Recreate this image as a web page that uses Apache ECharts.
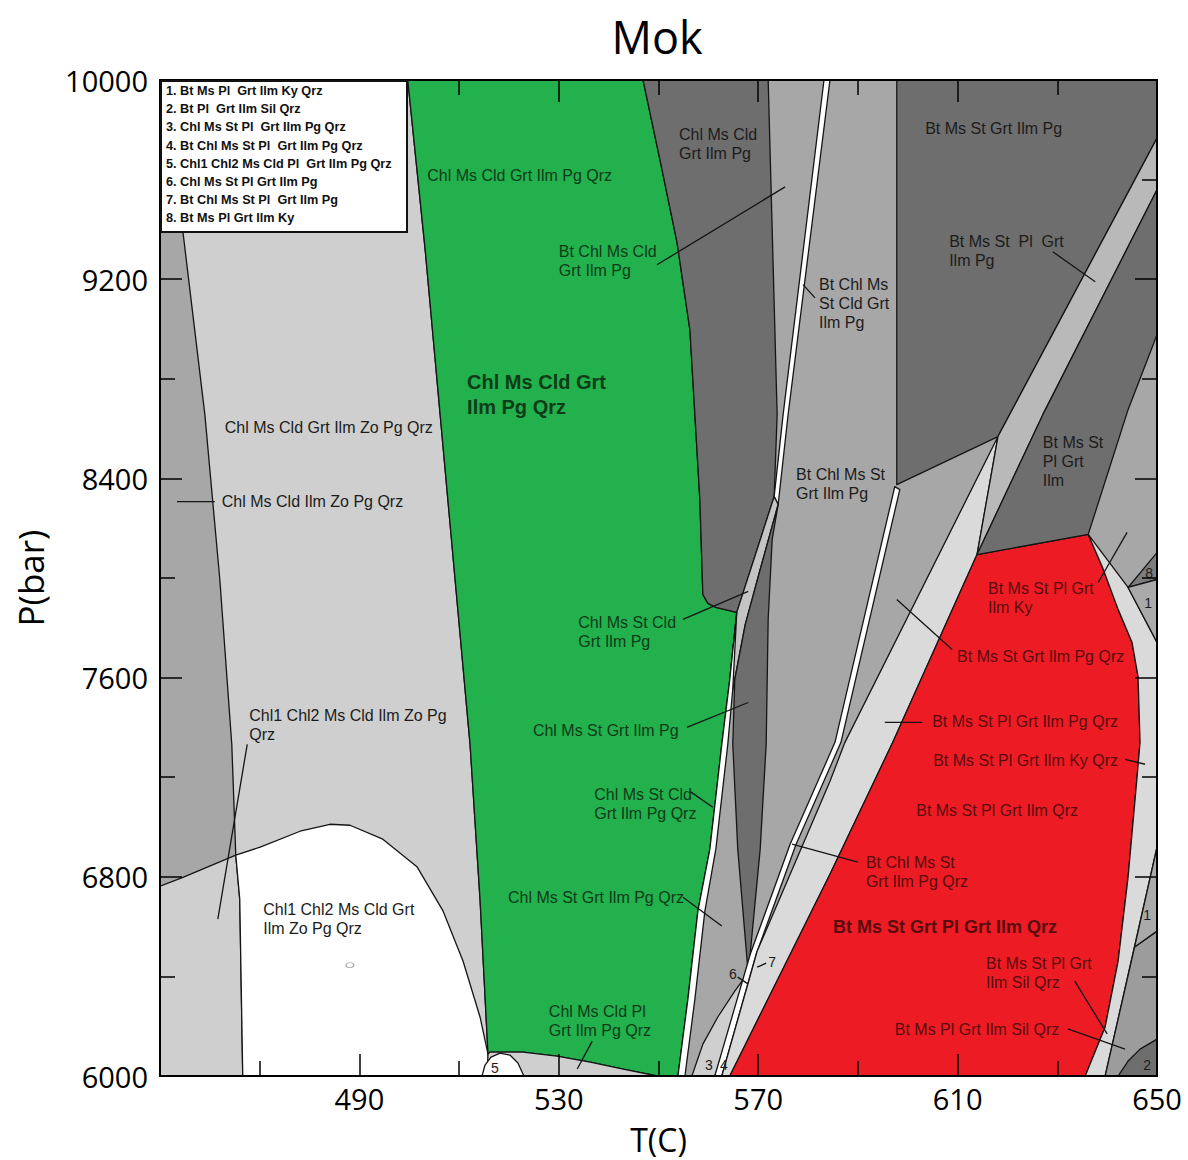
<!DOCTYPE html>
<html><head><meta charset="utf-8">
<script src="https://cdn.jsdelivr.net/npm/echarts@6/dist/echarts.min.js"></script>
<style>html,body{margin:0;padding:0;background:#fff}#c{width:1188px;height:1160px}</style>
</head><body><div id="c"></div>
<script>
// ---------- axis settings ----------
const tRange = [450, 650];
const pRange = [6000, 10000];

// ---------- phase field polygons, [T (C), P (bar)] ----------
const fieldLightBig = [[451.0,10000],[499.7,10000],[503.2,9318],[506.2,8656],[509.2,7994],[512.2,7332],[514.2,6710],[515.8,6088],[516.2,6000],[466.6,6000],[466.0,6710],[465.2,6887],[464.4,7332],[462.0,7994],[459.0,8656],[454.6,9390]];
const fieldLightLowLeft = [[450,6762],[454.6,6798],[465.2,6887],[466.0,6710],[466.6,6000],[450,6000]];
const fieldWhite = [[465.2,6887],[470.1,6919],[478.1,6983],[484.1,7011],[488.1,7007],[494.7,6951],[501.6,6839],[506.8,6662],[510.8,6461],[514.2,6237],[515.8,6088],[516.2,6000],[466.6,6000],[466.0,6710]];
const fieldGreen = [[499.7,10000],[503.2,9318],[506.2,8656],[509.2,7994],[512.2,7332],[514.2,6710],[515.8,6088],[516.2,6096],[522.8,6096],[529.6,6080],[536.3,6056],[542.9,6028],[549.7,6000],[553.9,6000],[555.9,6309],[557.9,6662],[560.3,6911],[562.7,7332],[564.3,7593],[565.7,7862],[561.5,7882],[559.9,7898],[558.9,7934],[558.3,8315],[557.3,8656],[556.3,8997],[553.7,9350],[550.3,9679],[546.9,10000]];
const fieldUnderGreen = [[515.8,6088],[516.2,6096],[522.8,6096],[529.6,6080],[536.3,6056],[542.9,6028],[549.7,6000],[515.6,6000]];
const field5 = [[514.6,6000],[515.2,6044],[516.4,6076],[518.2,6092],[520.2,6084],[521.8,6052],[523.0,6000]];
const fieldD1 = [[546.9,10000],[572.0,10000],[573.8,8656],[573.2,8327],[565.7,7862],[561.5,7882],[559.9,7898],[558.9,7934],[558.3,8315],[557.3,8656],[556.3,8997],[553.7,9350],[550.3,9679]];
const fieldW1 = [[583.2,10000],[584.4,10000],[576.0,8656],[574.0,8295],[573.2,8327],[575.0,8656]];
const fieldS1 = [[573.2,8327],[574.0,8295],[570.4,8034],[567.4,7813],[564.9,7553],[564.3,7593],[565.7,7862]];
const fieldD2 = [[574.0,8295],[572.8,8154],[572.0,7834],[571.6,7332],[570.4,6911],[568.0,6409],[565.9,6911],[564.9,7332],[565.3,7593],[567.4,7813],[570.4,8034]];
const fieldW3 = [[565.7,7862],[564.3,7593],[562.7,7332],[560.3,6911],[557.9,6662],[555.9,6309],[553.9,6000],[555.3,6000],[557.3,6309],[559.3,6662],[561.5,6911],[563.9,7332],[564.9,7553]];
const field3 = [[567.8,6409],[565.3,6341],[561.9,6237],[558.9,6128],[556.7,6000],[561.3,6000],[566.3,6309]];
const fieldW2 = [[597.4,8367],[585.4,7340],[576.4,6931],[568.4,6489],[561.3,6000],[562.7,6000],[569.6,6489],[577.6,6931],[586.6,7340],[598.4,8355]];
const fieldPale = [[618.1,8568],[613.9,8094],[597.0,7340],[584.4,6810],[564.3,6000],[562.7,6000],[569.8,6502],[584.4,7184],[587.4,7340]];
const fieldRed = [[613.9,8094],[636.2,8175],[639.0,8046],[642.2,7874],[645.0,7741],[646.2,7605],[646.6,7340],[646.0,7200],[644.2,6798],[642.2,6461],[639.6,6197],[635.6,6000],[564.3,6000],[584.4,6810],[597.0,7340]];
const fieldPaleRight = [[636.2,8175],[644.2,7962],[650,7741],[650,6919],[639.6,6000],[635.6,6000],[639.6,6197],[642.2,6461],[644.2,6798],[646.0,7200],[646.6,7340],[646.2,7605],[645.0,7741],[642.2,7874],[639.0,8046]];
const fieldDR1 = [[597.8,10000],[650,10000],[650,9767],[618.1,8568],[597.8,8375]];
const fieldLS = [[650,9767],[650,9559],[627.1,8656],[613.9,8094],[618.1,8568]];
const fieldDR2 = [[650,9559],[650,8977],[644.2,8676],[636.2,8175],[613.9,8094],[627.1,8656]];
const field8 = [[644.2,7962],[650,8102],[650,7994]];
const field1a = [[644.2,7962],[650,7994],[650,7741]];
const fieldLowRight = [[645.5,6518],[650,6582],[650,6000],[639.6,6000]];
const field1b = [[650,6919],[650,6582],[645.5,6518]];
const field2 = [[642.2,6000],[644.2,6060],[646.6,6108],[650,6148],[650,6000]];

// leader lines [[T1,P1],[T2,P2]]
const leaders = [
  [[453.4,8307],[461.0,8307]],
  [[461.6,6630],[467.5,7332]],
  [[549.7,9258],[575.4,9571]],
  [[579.0,9178],[581.4,9125]],
  [[629.1,9310],[637.6,9190]],
  [[554.9,7834],[568.0,7946]],
  [[555.7,7400],[568.0,7500]],
  [[556.3,7143],[560.9,7079]],
  [[554.9,6718],[562.7,6602]],
  [[536.7,6140],[533.7,6028]],
  [[565.9,6397],[568.0,6369]],
  [[569.8,6437],[571.6,6453]],
  [[576.8,6931],[590.0,6859]],
  [[597.8,7914],[608.9,7713]],
  [[595.4,7420],[602.9,7420]],
  [[638.2,7982],[644.0,8183]],
  [[643.6,7272],[647.6,7252]],
  [[633.5,6381],[640.0,6169]],
  [[632.1,6189],[643.6,6108]]
];

// field labels [T, P, text, kind]
const fieldLabels = [
  [503.6,9655,'Chl Ms Cld Grt Ilm Pg Qrz','g'],
  [554.1,9819,'Chl Ms Cld\nGrt Ilm Pg','k'],
  [603.5,9843,'Bt Ms St Grt Ilm Pg','k'],
  [530.0,9350,'Bt Chl Ms Cld\nGrt Ilm Pg','g'],
  [608.3,9390,'Bt Ms St  Pl  Grt\nIlm Pg','k'],
  [582.2,9218,'Bt Chl Ms\nSt Cld Grt\nIlm Pg','k'],
  [511.6,8836,'Chl Ms Cld Grt\nIlm Pg Qrz','gB'],
  [463.0,8644,'Chl Ms Cld Grt Ilm Zo Pg Qrz','k'],
  [462.4,8347,'Chl Ms Cld Ilm Zo Pg Qrz','k'],
  [577.6,8455,'Bt Chl Ms St\nGrt Ilm Pg','k'],
  [627.1,8584,'Bt Ms St\nPl Grt\nIlm','k'],
  [616.1,7994,'Bt Ms St Pl Grt\nIlm Ky','r'],
  [533.9,7858,'Chl Ms St Cld\nGrt Ilm Pg','g'],
  [609.9,7721,'Bt Ms St Grt Ilm Pg Qrz','r'],
  [467.9,7484,'Chl1 Chl2 Ms Cld Ilm Zo Pg\nQrz','k'],
  [524.8,7424,'Chl Ms St Grt Ilm Pg','g'],
  [604.9,7460,'Bt Ms St Pl Grt Ilm Pg Qrz','r'],
  [605.1,7304,'Bt Ms St Pl Grt Ilm Ky Qrz','r'],
  [537.1,7167,'Chl Ms St Cld\nGrt Ilm Pg Qrz','g'],
  [601.7,7103,'Bt Ms St Pl Grt Ilm Qrz','r'],
  [591.6,6895,'Bt Chl Ms St\nGrt Ilm Pg Qrz','r'],
  [470.7,6706,'Chl1 Chl2 Ms Cld Grt\nIlm Zo Pg Qrz','k'],
  [519.8,6754,'Chl Ms St Grt Ilm Pg Qrz','g'],
  [585.0,6650,'Bt Ms St Grt Pl Grt Ilm Qrz','rB'],
  [615.7,6489,'Bt Ms St Pl Grt\nIlm Sil Qrz','r'],
  [528.0,6297,'Chl Ms Cld Pl\nGrt Ilm Pg Qrz','g'],
  [597.4,6225,'Bt Ms Pl Grt Ilm Sil Qrz','r']
];
const numberLabels = [[517.2,6032,'5'],[560.1,6044,'3'],[563.1,6044,'4'],[564.9,6409,'6'],[572.8,6457,'7'],[648.4,8022,'8'],[648.2,7898,'1'],[648.0,6646,'1'],[648.0,6044,'2']];
const smallCircle = [[488.1,6445]];

const legendLines = [
  '1. Bt Ms Pl  Grt Ilm Ky Qrz',
  '2. Bt Pl  Grt Ilm Sil Qrz',
  '3. Chl Ms St Pl  Grt Ilm Pg Qrz',
  '4. Bt Chl Ms St Pl  Grt Ilm Pg Qrz',
  '5. Chl1 Chl2 Ms Cld Pl  Grt Ilm Pg Qrz',
  '6. Chl Ms St Pl Grt Ilm Pg',
  '7. Bt Chl Ms St Pl  Grt Ilm Pg',
  '8. Bt Ms Pl Grt Ilm Ky'
];

// ---------- styling ----------
const COL = {lg:'#cfcfcf', mg:'#a7a7a7', dg:'#6e6e6e', w:'#ffffff', s1:'#c4c4c4', pale:'#dadada', ls:'#b9b9b9', d8:'#7d7d7d', lr:'#9c9c9c', m1:'#aaaaaa', green:'#22b14c', red:'#ed1c24'};
const fields = [
  [fieldLightBig, COL.lg], [fieldLightLowLeft, COL.lg], [fieldWhite, COL.w],
  [fieldGreen, COL.green], [fieldUnderGreen, COL.lg], [field5, COL.w],
  [fieldD1, COL.dg], [fieldW1, COL.w], [fieldS1, COL.s1], [fieldD2, COL.dg],
  [fieldW3, COL.w], [field3, COL.lg], [fieldW2, COL.w], [fieldPale, COL.pale],
  [fieldRed, COL.red], [fieldPaleRight, COL.pale], [fieldDR1, COL.dg], [fieldLS, COL.ls],
  [fieldDR2, COL.dg], [field8, COL.d8], [field1a, COL.m1], [fieldLowRight, COL.lr],
  [field1b, COL.m1], [field2, COL.dg]
];
const LABEL_FONT = 'Liberation Sans, Arial, sans-serif';
const AXIS_FONT = 'Open Sans, sans-serif';
const kindStyle = {
  k:{fill:'#1c1c1c', fontSize:16, fontWeight:'normal', lineHeight:19},
  g:{fill:'#0e3b18', fontSize:16, fontWeight:'normal', lineHeight:19},
  r:{fill:'#5a0b0d', fontSize:16, fontWeight:'normal', lineHeight:19},
  gB:{fill:'#0e3b18', fontSize:20, fontWeight:'bold', lineHeight:25},
  rB:{fill:'#5a0b0d', fontSize:18, fontWeight:'bold', lineHeight:25}
};

const chart = echarts.init(document.getElementById('c'), null, {renderer:'svg', width:1188, height:1160});

function axisCommon(pos, isX, showLabel) {
  return {
    type:'value', position:pos,
    min: isX ? tRange[0] : pRange[0], max: isX ? tRange[1] : pRange[1],
    interval: isX ? 40 : 800,
    axisLine:{show:true, onZero:false, lineStyle:{color:'#000', width:2}},
    axisTick:{show:true, inside:true, length:22, lineStyle:{color:'#000', width:1.5}},
    minorTick:{show:true, splitNumber:2, length:15, lineStyle:{color:'#000', width:1.5}},
    splitLine:{show:false}, minorSplitLine:{show:false},
    axisLabel:{show:showLabel, color:'#000', fontSize:29, fontFamily:AXIS_FONT, margin: isX ? 8 : 12,
      formatter: v => (isX && v === tRange[0]) ? '' : String(v)},
    z: 10
  };
}

const xMain = Object.assign(axisCommon('bottom', true, true), {name:'T(C)', nameLocation:'middle', nameGap:47, nameTextStyle:{color:'#000', fontSize:32, fontFamily:AXIS_FONT}});
const yMain = Object.assign(axisCommon('left', false, true), {name:'P(bar)', nameLocation:'middle', nameGap:112, nameTextStyle:{color:'#000', fontSize:35, fontFamily:AXIS_FONT}});

const legendElems = [
  {type:'rect', z:100, zlevel:1, shape:{x:161, y:81, width:246, height:151}, style:{fill:'#fff', stroke:'#111', lineWidth:2}}
].concat(legendLines.map((t,i)=>({type:'text', z:101, zlevel:1, x:166, y:91 + i*18.2,
  style:{text:t, fill:'#111', fontSize:12.7, fontWeight:'bold', fontFamily:LABEL_FONT, verticalAlign:'middle', align:'left'}})));

const option = {
  animation:false,
  backgroundColor:'#ffffff',
  title:{text:'Mok', left:652, top:6, textAlign:'center', textStyle:{fontSize:45, lineHeight:50, fontWeight:'normal', color:'#000', fontFamily:AXIS_FONT}},
  grid:{left:160, right:31, top:80, bottom:83, show:true, backgroundColor:COL.mg, borderColor:'#000', borderWidth:2},
  xAxis:[xMain, axisCommon('top', true, false)],
  yAxis:[yMain, axisCommon('right', false, false)],
  series:[
    {
      type:'custom', silent:true, clip:true, z:2,
      data: fields.map((f,i)=>[f[0][0][0], f[0][0][1], i]),
      encode:{x:0, y:1},
      renderItem:(params, api)=>{
        const f = fields[params.dataIndex];
        return {type:'polygon', shape:{points:f[0].map(p=>api.coord(p))},
          style:{fill:f[1], stroke:'#151515', lineWidth:1.3, lineJoin:'round'}};
      }
    },
    {
      type:'custom', silent:true, clip:true, z:3,
      data: leaders.map((l,i)=>[l[0][0], l[0][1], i]),
      encode:{x:0, y:1},
      renderItem:(params, api)=>{
        const l = leaders[params.dataIndex];
        return {type:'polyline', shape:{points:l.map(p=>api.coord(p))},
          style:{stroke:'#151515', lineWidth:1.3, fill:null}};
      }
    },
    {
      type:'scatter', silent:true, z:3, symbol:'circle', symbolSize:[8,5],
      itemStyle:{color:'rgba(0,0,0,0)', borderColor:'#8a8a8a', borderWidth:1},
      data: smallCircle
    },
    {
      type:'custom', silent:true, clip:false, z:4,
      data: fieldLabels.map(l=>[l[0], l[1]]),
      encode:{x:0, y:1},
      renderItem:(params, api)=>{
        const l = fieldLabels[params.dataIndex];
        const s = kindStyle[l[3]];
        const pt = api.coord([l[0], l[1]]);
        return {type:'text', x:pt[0], y:pt[1],
          style:{text:l[2], fill:s.fill, fontSize:s.fontSize, fontWeight:s.fontWeight,
            fontFamily:LABEL_FONT, lineHeight:s.lineHeight, align:'left', verticalAlign:'top'}};
      }
    },
    {
      type:'custom', silent:true, clip:false, z:4,
      data: numberLabels.map(l=>[l[0], l[1]]),
      encode:{x:0, y:1},
      renderItem:(params, api)=>{
        const l = numberLabels[params.dataIndex];
        const pt = api.coord([l[0], l[1]]);
        return {type:'text', x:pt[0], y:pt[1],
          style:{text:l[2], fill:'#1c1c1c', fontSize:14, fontFamily:LABEL_FONT, align:'center', verticalAlign:'middle'}};
      }
    }
  ],
  graphic: legendElems
};
chart.setOption(option);
</script>
</body></html>
